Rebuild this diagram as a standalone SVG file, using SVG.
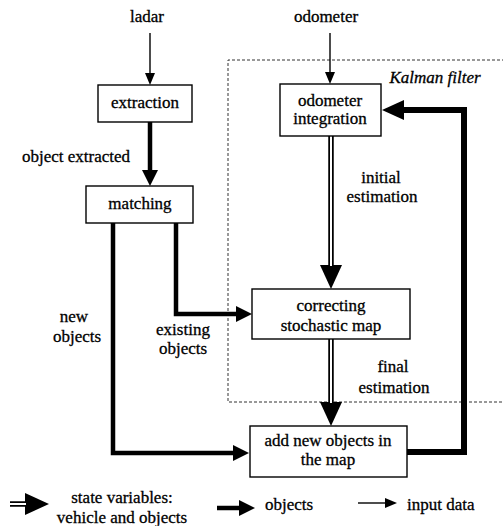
<svg xmlns="http://www.w3.org/2000/svg" width="503" height="526" viewBox="0 0 503 526">
<style>
text{font-family:"Liberation Serif",serif;font-size:17px;fill:#000;stroke:#000;stroke-width:0.3;text-anchor:middle}
.it{font-style:italic}
.st{text-anchor:start}
.box{fill:#fff;stroke:#000;stroke-width:1.4}
.thin{fill:none;stroke:#000;stroke-width:1.4}
.thick{fill:none;stroke:#000;stroke-width:4.5}
.heavy{fill:none;stroke:#000;stroke-width:6}
.dbl{fill:none;stroke:#000;stroke-width:5.5}
.dblin{fill:none;stroke:#fff;stroke-width:2}
.kal{fill:none;stroke:#333;stroke-width:1;stroke-dasharray:3 2}
</style>
<defs>
<marker id="hThin" markerUnits="userSpaceOnUse" markerWidth="12" markerHeight="10" refX="0" refY="5" orient="auto"><path d="M0,0 L12,5 L0,10 z"/></marker>
<marker id="hThick" markerUnits="userSpaceOnUse" markerWidth="16" markerHeight="16" refX="0" refY="8" orient="auto"><path d="M0,0 L16,8 L0,16 z"/></marker>
<marker id="hHeavy" markerUnits="userSpaceOnUse" markerWidth="22" markerHeight="20" refX="0" refY="10" orient="auto"><path d="M0,0 L22,10 L0,20 z"/></marker>
<marker id="hDbl" markerUnits="userSpaceOnUse" markerWidth="24" markerHeight="22" refX="0" refY="11" orient="auto"><path d="M0,0 L24,11 L0,22 z"/></marker>
</defs>

<g id="kalman-filter">
<path class="kal" d="M505,60 H228 V402 H505"/>
<text class="it" x="435" y="83">Kalman filter</text>
</g>

<g id="connectors">
<path class="thin" d="M150,33 V73" marker-end="url(#hThin)"/>
<path class="thin" d="M330,33 V72" marker-end="url(#hThin)"/>
<path class="thick" d="M150,122 V170" marker-end="url(#hThick)"/>
<path class="thick" d="M113,223 V453 H233" marker-end="url(#hThick)"/>
<path class="thick" d="M176,223 V314 H236" marker-end="url(#hThick)"/>
<path class="heavy" d="M407,452 H464 V110 H404" marker-end="url(#hHeavy)"/>
<path class="dbl" d="M331,136 V265" marker-end="url(#hDbl)"/>
<path class="dblin" d="M331,136 V266"/>
<path class="dbl" d="M331,339 V402" marker-end="url(#hDbl)"/>
<path class="dblin" d="M331,339 V403"/>
</g>

<g id="ladar"><text x="147" y="22">ladar</text></g>
<g id="odometer"><text x="326" y="22">odometer</text></g>
<g id="extraction"><rect class="box" x="98" y="85" width="94" height="37"/><text x="145" y="108">extraction</text></g>
<g id="matching"><rect class="box" x="86" y="186" width="107" height="37"/><text x="140" y="209">matching</text></g>
<g id="odometer-integration"><rect class="box" x="280" y="84" width="101" height="52"/><text x="330" y="106">odometer</text><text x="330" y="124">integration</text></g>
<g id="correcting"><rect class="box" x="252" y="289" width="158" height="50"/><text x="331" y="311">correcting</text><text x="331" y="331">stochastic map</text></g>
<g id="add-new"><rect class="box" x="250" y="426" width="157" height="51"/><text x="328" y="446">add new objects in</text><text x="328" y="465">the map</text></g>

<g id="labels">
<text x="76" y="162">object extracted</text>
<text x="381" y="183">initial</text>
<text x="382" y="202">estimation</text>
<text x="393" y="372">final</text>
<text x="394" y="393">estimation</text>
<text x="74" y="322">new</text>
<text x="77" y="342">objects</text>
<text x="183" y="335">existing</text>
<text x="183" y="354">objects</text>
</g>

<g id="legend">
<path class="dbl" d="M10,504 H25" marker-end="url(#hDbl)"/>
<path class="dblin" d="M10,504 H26"/>
<text x="122" y="503">state variables:</text>
<text x="122" y="523">vehicle and objects</text>
<path class="thick" d="M217,508 H239" marker-end="url(#hThick)"/>
<text class="st" x="265" y="510">objects</text>
<path class="thin" d="M358,503 H385" marker-end="url(#hThin)"/>
<text class="st" x="407" y="510">input data</text>
</g>
</svg>
